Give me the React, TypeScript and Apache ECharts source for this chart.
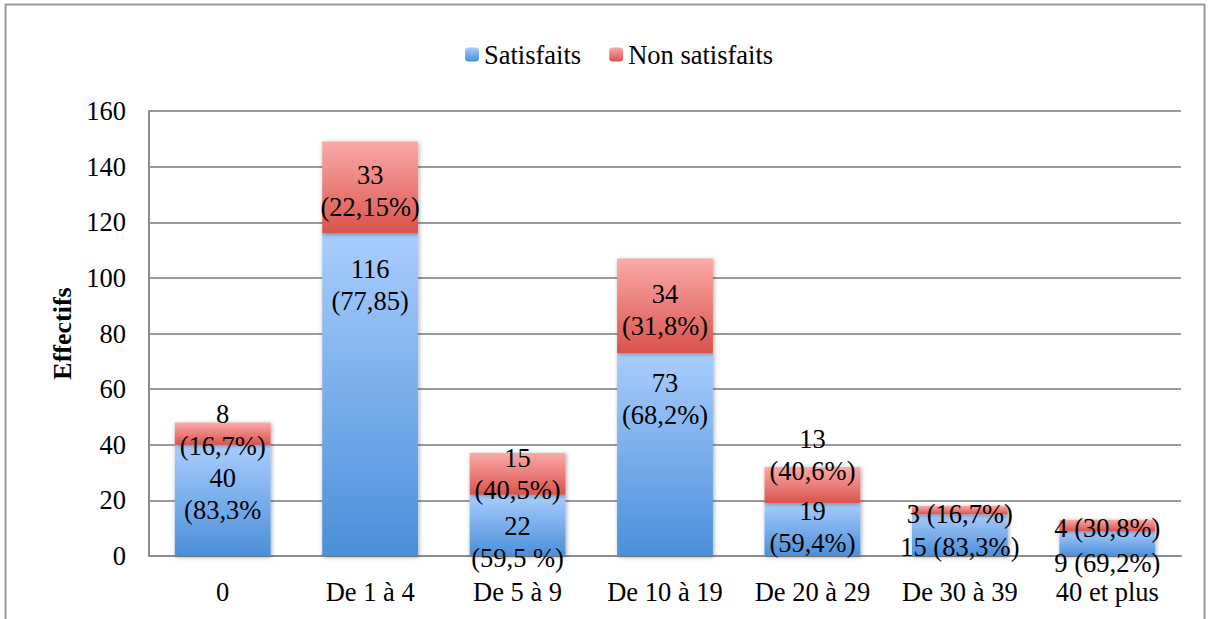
import React, { useEffect, useRef } from "react";
import * as echarts from "echarts";

const categories = ["0", "De 1 à 4", "De 5 à 9", "De 10 à 19", "De 20 à 29", "De 30 à 39", "40 et plus"];
const satisfaits = [40, 116, 22, 73, 19, 15, 9];
const nonSatisfaits = [8, 33, 15, 34, 13, 3, 4];
const satisfaitsLabels = ["40\n(83,3%", "116\n(77,85)", "22\n(59,5 %)", "73\n(68,2%)", "19\n(59,4%)", "15 (83,3%)", "9 (69,2%)"];
const nonSatisfaitsLabels = ["8\n(16,7%)", "33\n(22,15%)", "15\n(40,5%)", "34\n(31,8%)", "13\n(40,6%)", "3 (16,7%)", "4 (30,8%)"];
const yTicks = { min: 0, max: 160, interval: 20 };

// label vertical offsets (layout only)
const blueOffsets = [-6, -110, 17, -55, -3, 12, 20];
const redOffsets = [-4, 4, 0, 4, -30, 4, 3];
const blueLineHeights = [32, 32, 32, 32, 32, 26, 25];

const FONT = "Liberation Serif";
const FS = 26.5;

const blueGrad = () =>
  new echarts.graphic.LinearGradient(0, 0, 0, 1, [
    { offset: 0, color: "#a9cdfd" },
    { offset: 1, color: "#4a8fd9" },
  ]);
const redGrad = () =>
  new echarts.graphic.LinearGradient(0, 0, 0, 1, [
    { offset: 0, color: "#fbaaa8" },
    { offset: 1, color: "#d9534c" },
  ]);

export default function App() {
  const ref = useRef<HTMLDivElement>(null);
  useEffect(() => {
    if (!ref.current) return;
    const chart = echarts.init(ref.current, null, { renderer: "svg" });
    const labelBase = {
      show: true,
      position: "inside",
      color: "#000",
      fontFamily: FONT,
      fontSize: FS,
      lineHeight: 32,
      align: "center",
    };
    const itemBase = {
      shadowBlur: 4,
      shadowColor: "rgba(0,0,0,0.35)",
      shadowOffsetX: 1,
      shadowOffsetY: 1,
    };
    chart.setOption({
      animation: false,
      textStyle: { fontFamily: FONT },
      graphic: [
        {
          type: "rect",
          shape: { x: 5.5, y: 4.5, width: 1199, height: 700 },
          style: { fill: "none", stroke: "#9a9a9a", lineWidth: 2 },
          silent: true,
        },
      ],
      legend: {
        top: 36,
        left: 460,
        itemWidth: 14,
        itemHeight: 14,
        itemGap: 28,
        textStyle: { fontFamily: FONT, fontSize: FS, color: "#000" },
        data: [
          { name: "Satisfaits", itemStyle: { color: blueGrad() } },
          { name: "Non satisfaits", itemStyle: { color: redGrad() } },
        ],
      },
      grid: { left: 149, right: 30, top: 111, bottom: 63, containLabel: false },
      xAxis: {
        type: "category",
        data: categories,
        axisLine: { show: true, lineStyle: { color: "#8c8c8c", width: 2 } },
        axisTick: { show: false },
        axisLabel: { color: "#000", fontFamily: FONT, fontSize: FS, margin: 22, interval: 0 },
      },
      yAxis: {
        type: "value",
        min: yTicks.min,
        max: yTicks.max,
        interval: yTicks.interval,
        name: "Effectifs",
        nameLocation: "middle",
        nameGap: 74,
        nameRotate: 90,
        nameTextStyle: { color: "#000", fontFamily: FONT, fontSize: 26, fontWeight: "bold" },
        axisLine: { show: true, lineStyle: { color: "#8c8c8c", width: 2 } },
        axisTick: { show: false },
        axisLabel: { color: "#000", fontFamily: FONT, fontSize: FS, margin: 23 },
        splitLine: { show: true, lineStyle: { color: "#9a9a9a", width: 2 } },
      },
      series: [
        {
          name: "Satisfaits",
          type: "bar",
          stack: "total",
          barWidth: "65%",
          itemStyle: { ...itemBase, color: blueGrad() },
          label: { ...labelBase, formatter: (p: any) => satisfaitsLabels[p.dataIndex] },
          data: satisfaits.map((v, i) => ({
            value: v,
            label: { offset: [0, blueOffsets[i]], lineHeight: blueLineHeights[i] },
          })),
        },
        {
          name: "Non satisfaits",
          type: "bar",
          stack: "total",
          barWidth: "65%",
          itemStyle: { ...itemBase, color: redGrad() },
          label: { ...labelBase, formatter: (p: any) => nonSatisfaitsLabels[p.dataIndex] },
          data: nonSatisfaits.map((v, i) => ({ value: v, label: { offset: [0, redOffsets[i]] } })),
        },
      ],
    });
    return () => chart.dispose();
  }, []);
  return (
    <div
      ref={ref}
      style={{ position: "absolute", left: 0, top: 0, width: 1211, height: 619, background: "#fff" }}
    />
  );
}
